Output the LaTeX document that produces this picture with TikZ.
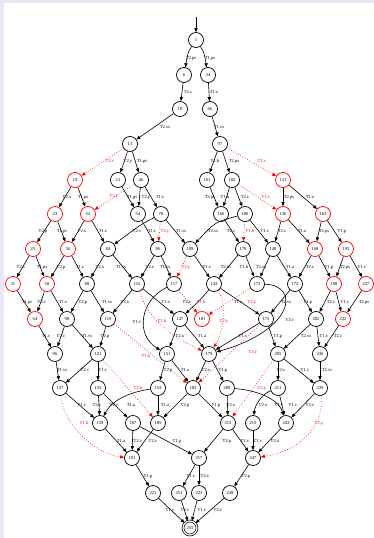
\documentclass[tikz,border=0pt]{standalone}
\usepackage{fontspec}
\setmainfont{Liberation Serif}
\usetikzlibrary{arrows.meta}
\definecolor{bgl}{RGB}{232,232,245}
\begin{document}
\begin{tikzpicture}[x=1pt,y=-1pt,
  st/.style={circle,draw=black,line width=0.7pt,minimum size=15pt,inner sep=0pt,font=\fontsize{4.6}{5}\selectfont},
  rst/.style={st,draw=red},
  fin/.style={st,double,double distance=1.2pt,minimum size=14pt},
  e/.style={-{Triangle[length=4pt,width=3.2pt]},line width=0.6pt},
  r/.style={e,red,dotted,line width=0.7pt},
  lb/.style={font=\fontsize{4.6}{5}\selectfont,inner sep=0pt},
  rlb/.style={lb,text=red}
]
\fill[bgl] (0,0) rectangle (374,538);
\fill[white] (4,3) rectangle (374,538);
\useasboundingbox (0,0) rectangle (374,538);

\node[st] (n1) at (196,40) {1};
\node[st] (n6) at (184,75) {6};
\node[st] (n34) at (208,75) {34};
\node[st] (n10) at (180,109) {10};
\node[st] (n66) at (210,109) {66};
\node[st] (n13) at (130,144) {13};
\node[st] (n97) at (220,144) {97};
\node[rst] (n19) at (75,180) {19};
\node[st] (n21) at (118,180) {21};
\node[st] (n46) at (141,180) {46};
\node[st] (n161) at (207,180) {161};
\node[st] (n102) at (232,180) {102};
\node[rst] (n131) at (283,180) {131};
\node[rst] (n23) at (55,214) {23};
\node[rst] (n52) at (88,214) {52};
\node[st] (n54) at (138,214) {54};
\node[st] (n78) at (161,214) {78};
\node[st] (n166) at (221,214) {166};
\node[st] (n106) at (245,214) {106};
\node[rst] (n136) at (283,214) {136};
\node[rst] (n163) at (323,214) {163};
\node[rst] (n25) at (33,249) {25};
\node[rst] (n56) at (68,249) {56};
\node[st] (n84) at (108,249) {84};
\node[st] (n86) at (158,249) {86};
\node[st] (n109) at (190,249) {109};
\node[st] (n170) at (243,249) {170};
\node[st] (n140) at (273,249) {140};
\node[rst] (n168) at (315,249) {168};
\node[rst] (n193) at (346,249) {193};
\node[rst] (n31) at (13,284) {31};
\node[rst] (n58) at (47,284) {58};
\node[st] (n88) at (87,284) {88};
\node[st] (n115) at (137,284) {115};
\node[st] (n117) at (174,284) {117};
\node[st] (n143) at (214,284) {143};
\node[st] (n173) at (257,284) {173};
\node[st] (n172) at (295,284) {172};
\node[rst] (n198) at (334,284) {198};
\node[rst] (n227) at (366,284) {227};
\node[rst] (n64) at (35,319) {64};
\node[st] (n98) at (67,319) {98};
\node[st] (n119) at (108,319) {119};
\node[st] (n147) at (180,319) {147};
\node[rst] (n181) at (202,319) {181};
\node[st] (n175) at (266,319) {175};
\node[st] (n202) at (316,319) {202};
\node[rst] (n232) at (343,319) {232};
\node[st] (n96) at (55,354) {96};
\node[st] (n121) at (98,354) {121};
\node[st] (n151) at (167,354) {151};
\node[st] (n179) at (209,354) {179};
\node[st] (n205) at (278,354) {205};
\node[st] (n236) at (320,354) {236};
\node[st] (n127) at (60,388) {127};
\node[st] (n155) at (98,388) {155};
\node[st] (n153) at (158,388) {153};
\node[st] (n183) at (193,388) {183};
\node[st] (n209) at (227,388) {209};
\node[st] (n211) at (278,388) {211};
\node[st] (n239) at (320,388) {239};
\node[st] (n159) at (100,423) {159};
\node[st] (n187) at (133,423) {187};
\node[st] (n185) at (158,423) {185};
\node[st] (n213) at (228,423) {213};
\node[st] (n215) at (253,423) {215};
\node[st] (n243) at (286,423) {243};
\node[st] (n191) at (132,458) {191};
\node[st] (n217) at (199,458) {217};
\node[st] (n247) at (253,458) {247};
\node[st] (n221) at (153,493) {221};
\node[st] (n251) at (179,493) {251};
\node[st] (n223) at (199,493) {223};
\node[st] (n249) at (230,493) {249};
\node[fin] (n255) at (190,528) {255};
\coordinate (start) at (196,17);

\draw[e] (start) -- (n1);
\draw[e] (n1) .. controls (188,52) .. (n6) node[lb] at (191,58) {T2.ps};
\draw[e] (n1) .. controls (204,52) .. (n34) node[lb] at (210,58) {T1.ps};
\draw[e] (n6) -- (n10) node[lb] at (188,92) {T2.c};
\draw[e] (n34) -- (n66) node[lb] at (214,92) {T1.c};
\draw[e] (n10) -- (n13) node[lb] at (165,127) {T2.vs};
\draw[e] (n66) -- (n97) node[lb] at (219,127) {T1.vs};
\draw[r] (n13) -- (n19) node[rlb] at (110,161) {T2.v};
\draw[e] (n13) -- (n21) node[lb] at (128,161) {T2.y};
\draw[e] (n13) -- (n46) node[lb] at (142,161) {T1.ps};
\draw[e] (n97) -- (n161) node[lb] at (215,161) {T1.b};
\draw[e] (n97) -- (n102) node[lb] at (234,161) {T2.ps};
\draw[r] (n97) -- (n131) node[rlb] at (262,161) {T1.v};
\draw[e] (n19) -- (n23) node[lb] at (67,197) {T2.x};
\draw[e] (n19) -- (n52) node[lb] at (83,197) {T1.ps};
\draw[r] (n46) -- (n52) node[rlb] at (114,196) {T2.v};
\draw[e] (n21) -- (n54) node[lb] at (132,197) {T1.ps};
\draw[e] (n46) -- (n54) node[lb] at (146,197) {T2.y};
\draw[e] (n46) -- (n78) node[lb] at (160,197) {T1.c};
\draw[e] (n161) -- (n166) node[lb] at (210,197) {T2.ps};
\draw[e] (n102) -- (n166) node[lb] at (225,197) {T1.b};
\draw[e] (n102) -- (n106) node[lb] at (245,197) {T2.c};
\draw[r] (n102) -- (n136) node[rlb] at (266,197) {T1.v};
\draw[e] (n131) -- (n136) node[lb] at (289,197) {T2.ps};
\draw[e] (n131) -- (n163) node[lb] at (310,197) {T1.a};
\draw[e] (n23) -- (n25) node[lb] at (43,231) {T2.p};
\draw[e] (n23) -- (n56) node[lb] at (62,231) {T1.ps};
\draw[e] (n52) -- (n56) node[lb] at (82,231) {T2.x};
\draw[e] (n52) -- (n84) node[lb] at (103,231) {T1.c};
\draw[e] (n54) -- (n86) node[lb] at (152,231) {T1.c};
\draw[e] (n78) .. controls (140,225) .. (n84) node[lb] at (137,231) {T2.v};
\draw[r] (n78) -- (n86) node[rlb] at (165,231) {T2.y};
\draw[e] (n78) -- (n109) node[lb] at (181,231) {T1.vs};
\draw[e] (n166) -- (n170) node[lb] at (231,231) {T2.c};
\draw[e] (n106) .. controls (215,222) .. (n109) node[lb] at (213,231) {T2.vs};
\draw[r] (n106) -- (n170) node[rlb] at (250,231) {T1.b};
\draw[e] (n106) -- (n140) node[lb] at (265,231) {T1.v};
\draw[e] (n136) -- (n140) node[lb] at (282,231) {T2.c};
\draw[e] (n136) -- (n168) node[lb] at (302,231) {T1.a};
\draw[e] (n163) -- (n168) node[lb] at (324,231) {T2.ps};
\draw[e] (n163) -- (n193) node[lb] at (342,231) {T1.p};

\draw[e] (n25) -- (n31) node[lb] at (21,267) {T2.v};
\draw[e] (n25) -- (n58) node[lb] at (42,267) {T1.ps};
\draw[e] (n56) -- (n58) node[lb] at (61,267) {T2.p};
\draw[e] (n56) -- (n88) node[lb] at (80,267) {T1.c};
\draw[e] (n84) -- (n88) node[lb] at (100,267) {T2.x};
\draw[e] (n84) -- (n115) node[lb] at (121,267) {T1.vs};
\draw[e] (n86) -- (n115) node[lb] at (150,267) {T2.v};
\draw[e] (n86) -- (n117) node[lb] at (165,267) {T1.vs};
\draw[r] (n109) -- (n117) node[rlb] at (186,267) {T2.y};
\draw[e] (n109) -- (n143) node[lb] at (207,267) {T1.v};
\draw[e] (n170) -- (n143) node[lb] at (226,267) {T2.vs};
\draw[e] (n170) -- (n173) node[lb] at (244,267) {T1.b};
\draw[e] (n140) -- (n173) node[lb] at (261,267) {T2.vs};
\draw[e] (n140) -- (n172) node[lb] at (290,267) {T1.a};
\draw[e] (n168) -- (n172) node[lb] at (310,267) {T2.c};
\draw[e] (n168) -- (n198) node[lb] at (329,267) {T1.p};
\draw[e] (n193) -- (n198) node[lb] at (345,267) {T2.ps};
\draw[e] (n193) -- (n227) node[lb] at (362,267) {T1.v};

\draw[e] (n31) -- (n64) node[lb] at (27,302) {T1.ps};
\draw[e] (n58) -- (n64) node[lb] at (42,302) {T2.v};
\draw[e] (n58) -- (n98) node[lb] at (63,302) {T1.c};
\draw[e] (n88) -- (n98) node[lb] at (83,302) {T2.p};
\draw[e] (n88) -- (n119) node[lb] at (107,302) {T1.vs};
\draw[e] (n115) -- (n119) node[lb] at (125,302) {T2.x};
\draw[e] (n115) -- (n147) node[lb] at (166,302) {T1.v};
\draw[e] (n117) .. controls (140,300) and (135,335) .. (n151) node[lb] at (137,322) {T1.v};
\draw[r] (n117) -- (n181) node[rlb] at (201,302) {T1.b};
\draw[e] (n143) .. controls (200,300) .. (n147) node[lb] at (187,302) {T2.v};
\draw[e] (n143) -- (n175) node[lb] at (238,302) {T1.a};
\draw[r] (n143) .. controls (228,305) and (222,335) .. (n179) node[rlb] at (224,321) {T2.y};
\draw[r] (n115) .. controls (150,325) and (180,340) .. (n179) node[rlb] at (162,321) {T1.b};
\draw[r] (n173) -- (n181) node[rlb] at (252,302) {T2.y};
\draw[e] (n173) .. controls (300,285) and (295,330) .. (n179) node[lb] at (290,320) {T2.v};
\draw[e] (n172) -- (n175) node[lb] at (286,302) {T2.vs};
\draw[e] (n172) -- (n202) node[lb] at (308,302) {T1.p};
\draw[e] (n198) -- (n202) node[lb] at (331,302) {T2.c};
\draw[e] (n198) -- (n232) node[lb] at (345,302) {T1.v};
\draw[e] (n227) -- (n232) node[lb] at (364,302) {T2.ps};

\draw[e] (n64) -- (n96) node[lb] at (46,336) {T1.c};
\draw[e] (n98) -- (n96) node[lb] at (61,336) {T2.v};
\draw[e] (n98) -- (n121) node[lb] at (87,336) {T1.vs};
\draw[e] (n119) -- (n121) node[lb] at (105,336) {T2.p};
\draw[r] (n119) -- (n183) node[rlb] at (146,356) {T1.b};
\draw[e] (n147) -- (n151) node[lb] at (180,336) {T2.x};
\draw[e] (n147) -- (n179) node[lb] at (202,336) {T1.a};
\draw[e] (n175) -- (n179) node[lb] at (243,336) {T1.v};
\draw[r] (n175) -- (n183) node[rlb] at (253,352) {T2.y};
\draw[e] (n175) -- (n205) node[lb] at (278,336) {T1.p};
\draw[e] (n202) -- (n205) node[lb] at (306,336) {T2.vs};
\draw[e] (n202) -- (n236) node[lb] at (324,336) {T1.v};
\draw[e] (n232) -- (n236) node[lb] at (338,336) {T2.c};

\draw[e] (n96) -- (n127) node[lb] at (62,370) {T1.vs};
\draw[e] (n121) -- (n127) node[lb] at (85,370) {T2.v};
\draw[e] (n121) -- (n155) node[lb] at (103,370) {T1.v};
\draw[r] (n121) -- (n185) node[rlb] at (138,388) {T1.b};
\draw[e] (n151) -- (n153) node[lb] at (168,370) {T2.p};
\draw[e] (n151) -- (n183) node[lb] at (185,370) {T1.a};
\draw[e] (n179) -- (n183) node[lb] at (206,370) {T2.x};
\draw[e] (n179) -- (n209) node[lb] at (223,370) {T1.p};
\draw[e] (n205) -- (n211) node[lb] at (281,370) {T2.v};
\draw[r] (n205) -- (n213) node[rlb] at (262,388) {T2.y};
\draw[e] (n205) -- (n239) node[lb] at (305,370) {T1.v};
\draw[e] (n236) -- (n239) node[lb] at (327,370) {T2.vs};

\draw[e] (n127) -- (n159) node[lb] at (82,405) {T1.v};
\draw[e] (n155) -- (n159) node[lb] at (97,405) {T2.v};
\draw[e] (n153) .. controls (130,392) and (112,400) .. (n159) node[lb] at (114,405) {T2.v};
\draw[e] (n155) -- (n187) node[lb] at (131,405) {T1.a};
\draw[e] (n153) -- (n185) node[lb] at (165,405) {T1.a};
\draw[e] (n183) -- (n185) node[lb] at (185,405) {T2.p};
\draw[e] (n183) -- (n213) node[lb] at (216,405) {T1.p};
\draw[e] (n209) -- (n213) node[lb] at (231,405) {T2.x};
\draw[e] (n209) .. controls (255,390) and (278,398) .. (n243) node[lb] at (279,405) {T1.v};
\draw[e] (n211) .. controls (262,394) and (255,405) .. (n215) node[lb] at (263,405) {T2.x};
\draw[e] (n211) -- (n243) node[lb] at (293,405) {T1.v};
\draw[e] (n239) -- (n243) node[lb] at (310,405) {T2.v};

\draw[e] (n159) -- (n191) node[lb] at (121,441) {T1.a};
\draw[e] (n187) -- (n191) node[lb] at (138,441) {T2.v};
\draw[e] (n185) -- (n191) node[lb] at (153,441) {T2.v};
\draw[e] (n187) -- (n217) node[lb] at (177,441) {T1.p};
\draw[r] (n127) .. controls (65,430) and (100,455) .. (n191) node[rlb] at (84,423) {T1.b};
\draw[e] (n213) -- (n217) node[lb] at (227,441) {T2.p};
\draw[e] (n213) -- (n247) node[lb] at (245,441) {T1.v};
\draw[e] (n215) -- (n247) node[lb] at (258,441) {T1.v};
\draw[e] (n243) -- (n247) node[lb] at (275,441) {T2.x};
\draw[r] (n239) .. controls (325,430) and (295,452) .. (n247) node[rlb] at (319,423) {T2.y};

\draw[e] (n191) -- (n221) node[lb] at (148,476) {T1.p};
\draw[e] (n217) -- (n251) node[lb] at (191,476) {T1.v};
\draw[e] (n217) -- (n223) node[lb] at (205,476) {T2.v};
\draw[e] (n247) -- (n249) node[lb] at (246,476) {T2.p};

\draw[e] (n221) -- (n255) node[lb] at (170,510) {T1.v};
\draw[e] (n251) -- (n255) node[lb] at (185,510) {T2.v};
\draw[e] (n223) -- (n255) node[lb] at (202,510) {T1.v};
\draw[e] (n249) -- (n255) node[lb] at (218,510) {T2.v};
\end{tikzpicture}
\end{document}
